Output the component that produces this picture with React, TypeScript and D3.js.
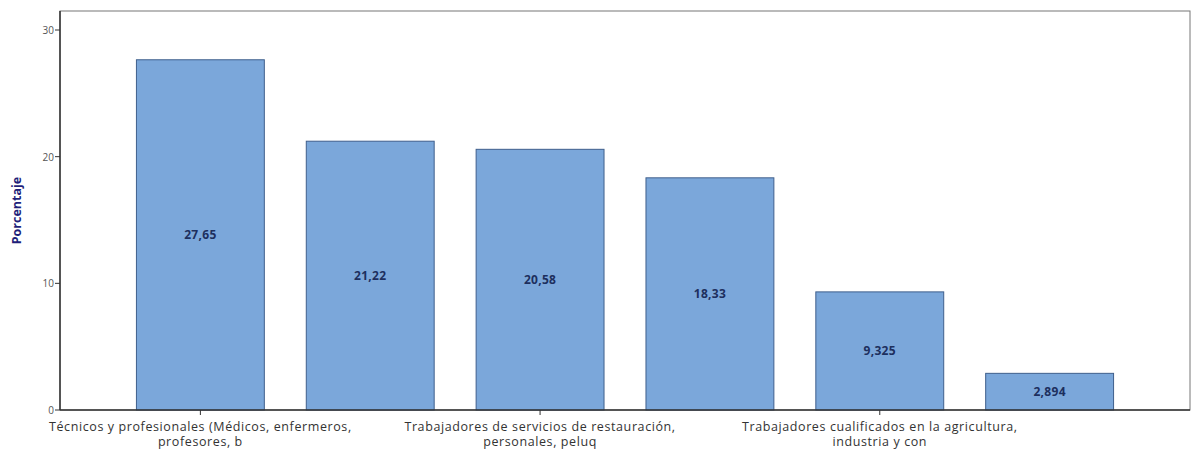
import React from "react";
import * as d3 from "d3";

const categories = [
  "Técnicos y profesionales (Médicos, enfermeros, profesores, b",
  "Empleados contables, administrativos y otros empleados de oficina",
  "Trabajadores de servicios de restauración, personales, peluq",
  "Ocupaciones elementales",
  "Trabajadores cualificados en la agricultura, industria y con",
  "Operadores de instalaciones y maquinaria, y montadores",
];
const labelLines: string[][] = [
  ["Técnicos y profesionales (Médicos, enfermeros,", "profesores, b"],
  [],
  ["Trabajadores de servicios de restauración,", "personales, peluq"],
  [],
  ["Trabajadores cualificados en la agricultura,", "industria y con"],
  [],
];
const values = [27.65, 21.22, 20.58, 18.33, 9.325, 2.894];
const valueLabels = ["27,65", "21,22", "20,58", "18,33", "9,325", "2,894"];
const yTicks = [0, 10, 20, 30];

const W = 1191;
const H = 454;
const left = 60;
const right = 1190;
const top = 11;
const bottom = 410;

export default function App() {
  const x = d3
    .scaleBand<string>()
    .domain(categories)
    .range([left, right])
    .paddingInner(0.247)
    .paddingOuter(0.45);
  const y = d3.scaleLinear().domain([0, 31.5]).range([bottom, top]);
  const font = "'Open Sans', 'DejaVu Sans', sans-serif";

  return (
    <svg
      width={W}
      height={H}
      style={{ position: "absolute", left: 0, top: 0, background: "#fff" }}
      fontFamily={font}
    >
      <rect x={left} y={top} width={right - left} height={bottom - top} fill="#fff" stroke="#777" strokeWidth={1} />

      {categories.map((c, i) => {
        const bx = x(c)!;
        const by = y(values[i]);
        const bh = y(0) - by;
        return (
          <g key={c}>
            <rect
              x={bx}
              y={by}
              width={x.bandwidth()}
              height={bh}
              fill="#7ba7da"
              stroke="#3f5f8c"
              strokeWidth={1}
            />
            <text
              x={bx + x.bandwidth() / 2}
              y={by + bh / 2}
              textAnchor="middle"
              dominantBaseline="central"
              fontSize={12}
              letterSpacing={0.3}
              fontWeight="bold"
              fill="#1d2f5e"
            >
              {valueLabels[i]}
            </text>
          </g>
        );
      })}

      <line x1={left} x2={left} y1={top} y2={bottom} stroke="#333" strokeWidth={1.5} />
      <line x1={left} x2={right} y1={bottom} y2={bottom} stroke="#333" strokeWidth={1.5} />

      {yTicks.map((t) => (
        <g key={t}>
          <line x1={left - 5} x2={left} y1={y(t)} y2={y(t)} stroke="#333" />
          <text x={left - 6} y={y(t)} textAnchor="end" dominantBaseline="central" fontSize={10} fill="#555">
            {t}
          </text>
        </g>
      ))}

      {categories.map((c, i) => {
        const lines = labelLines[i];
        if (!lines.length) return null;
        const cx = x(c)! + x.bandwidth() / 2;
        return (
          <g key={"xl" + i}>
            <line x1={cx} x2={cx} y1={bottom} y2={bottom + 5} stroke="#333" />
            {lines.map((l, j) => (
              <text
                key={j}
                x={cx}
                y={431 + j * 15}
                textAnchor="middle"
                fontSize={12.5}
                letterSpacing={0.6}
                fill="#333"
              >
                {l}
              </text>
            ))}
          </g>
        );
      })}

      <text
        transform={`translate(21,${(top + bottom) / 2}) rotate(-90)`}
        textAnchor="middle"
        fontSize={12.5}
        fontWeight="bold"
        fill="#1f1f7a"
      >
        Porcentaje
      </text>
    </svg>
  );
}
